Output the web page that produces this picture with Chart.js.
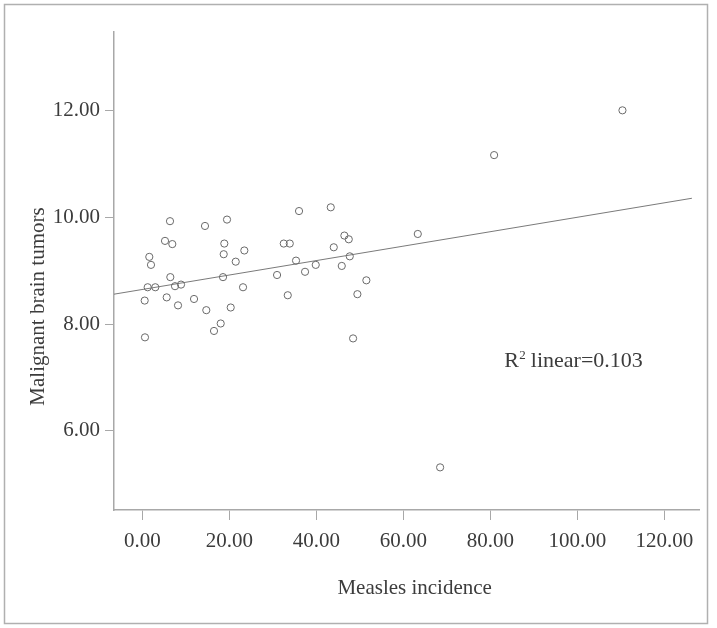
<!DOCTYPE html>
<html>
<head>
<meta charset="utf-8">
<script src="https://cdn.jsdelivr.net/npm/chart.js@4.4.1/dist/chart.umd.min.js"></script>
<style>
  html, body { margin: 0; padding: 0; background: #fff; }
  #wrap { width: 717px; height: 628px; position: relative; }
</style>
</head>
<body>
<div id="wrap"><canvas id="c" width="717" height="628"></canvas></div>
<script>
// ---- data ----
const measles = [6.37,14.41,19.47,5.22,6.90,18.85,1.61,23.45,18.71,2.00,
                 21.47,6.44,18.55,30.97,1.24,2.99,7.52,8.90,23.15,0.55,
                 5.61,11.89,8.21,14.71,20.32,18.02,16.48,0.62,
                 36.02,43.31,32.51,33.89,46.44,47.45,63.31,44.00,35.33,47.68,39.86,37.40,45.84,51.49,33.43,49.43,48.44,
                 80.85,110.34,68.44];
const tumors = [9.93,9.84,9.96,9.56,9.50,9.51,9.26,9.38,9.31,9.11,
                9.17,8.88,8.88,8.92,8.69,8.69,8.71,8.74,8.69,8.44,
                8.50,8.47,8.35,8.26,8.31,8.01,7.87,7.75,
                10.12,10.19,9.51,9.51,9.66,9.59,9.69,9.44,9.19,9.27,9.11,8.98,9.09,8.82,8.54,8.56,7.73,
                11.17,12.01,5.31];
const fitX = [-6.5, 126.3];
const fitY = [8.56, 10.36];
const xTicks = [0, 20, 40, 60, 80, 100, 120];
const yTicks = [6, 8, 10, 12];
const xTitle = 'Measles incidence';
const yTitle = 'Malignant brain tumors';
const r2Label = { main: 'R', sup: '2', rest: 'linear=0.103', x: 83.15, y: 7.2 };

const FONT = '"Liberation Serif", "Times New Roman", serif';
const TEXT = '#3c3c3c';
const AXIS = '#a8a8a8';

const points = measles.map((m, i) => ({ x: m, y: tumors[i] }));
const fitLine = fitX.map((x, i) => ({ x: x, y: fitY[i] }));

const decor = {
  id: 'decor',
  afterDraw(chart) {
    const ctx = chart.ctx;
    const ca = chart.chartArea;
    ctx.save();
    // outer frame
    ctx.strokeStyle = '#b0b0b0';
    ctx.lineWidth = 1.5;
    ctx.strokeRect(4.5, 4.5, 703, 619);
    // axis titles
    ctx.fillStyle = TEXT;
    ctx.font = '21px ' + FONT;
    ctx.textAlign = 'center';
    ctx.textBaseline = 'middle';
    ctx.fillText(xTitle, (ca.left + ca.right) / 2 + 8, 588);
    ctx.save();
    ctx.translate(38, 306.5);
    ctx.rotate(-Math.PI / 2);
    ctx.fillText(yTitle, 0, 0);
    ctx.restore();
    // R^2 annotation
    const sx = chart.scales.x, sy = chart.scales.y;
    const px = sx.getPixelForValue(r2Label.x);
    const py = sy.getPixelForValue(r2Label.y);
    ctx.textAlign = 'left';
    ctx.textBaseline = 'alphabetic';
    ctx.font = '22px ' + FONT;
    ctx.fillText(r2Label.main, px, py);
    let w = ctx.measureText(r2Label.main).width;
    ctx.font = '13px ' + FONT;
    ctx.fillText(r2Label.sup, px + w + 0.5, py - 8);
    const w2 = ctx.measureText(r2Label.sup).width;
    ctx.font = '22px ' + FONT;
    ctx.fillText(r2Label.rest, px + w + 0.5 + w2 + 5, py);
    ctx.restore();
  }
};

new Chart(document.getElementById('c'), {
  type: 'scatter',
  data: {
    datasets: [
      {
        type: 'line',
        data: fitLine,
        borderColor: '#7a7a7a',
        borderWidth: 1,
        pointRadius: 0,
        fill: false,
        tension: 0,
        order: 2
      },
      {
        type: 'scatter',
        data: points,
        pointRadius: 3.6,
        pointBorderWidth: 1,
        borderColor: '#6a6a6a',
        backgroundColor: 'rgba(255,255,255,0)',
        pointBackgroundColor: 'rgba(255,255,255,0)',
        pointBorderColor: '#6a6a6a',
        order: 1
      }
    ]
  },
  options: {
    responsive: false,
    animation: false,
    devicePixelRatio: 1,
    layout: { padding: { left: 0, top: 32, right: 17.7, bottom: 0 } },
    plugins: { legend: { display: false }, tooltip: { enabled: false }, title: { display: false } },
    scales: {
      x: {
        type: 'linear',
        min: -6.5,
        max: 128.0,
        afterBuildTicks: s => { s.ticks = xTicks.map(v => ({ value: v })); },
        afterFit: s => { s.height = 118; },
        grid: { display: true, drawOnChartArea: false, drawTicks: true, tickLength: 10, color: AXIS, lineWidth: 1 },
        border: { display: true, color: AXIS, width: 1.5 },
        ticks: {
          font: { family: FONT, size: 21 },
          color: TEXT,
          padding: 9,
          maxRotation: 0,
          autoSkip: false,
          callback: v => Number(v).toFixed(2)
        }
      },
      y: {
        type: 'linear',
        min: 4.51,
        max: 13.48,
        afterBuildTicks: s => { s.ticks = yTicks.map(v => ({ value: v })); },
        afterFit: s => { s.width = 114; },
        grid: { display: true, drawOnChartArea: false, drawTicks: true, tickLength: 9, color: AXIS, lineWidth: 1 },
        border: { display: true, color: AXIS, width: 1.5 },
        ticks: {
          font: { family: FONT, size: 21 },
          color: TEXT,
          padding: 5,
          autoSkip: false,
          callback: v => Number(v).toFixed(2)
        }
      }
    }
  },
  plugins: [decor]
});
</script>
</body>
</html>
